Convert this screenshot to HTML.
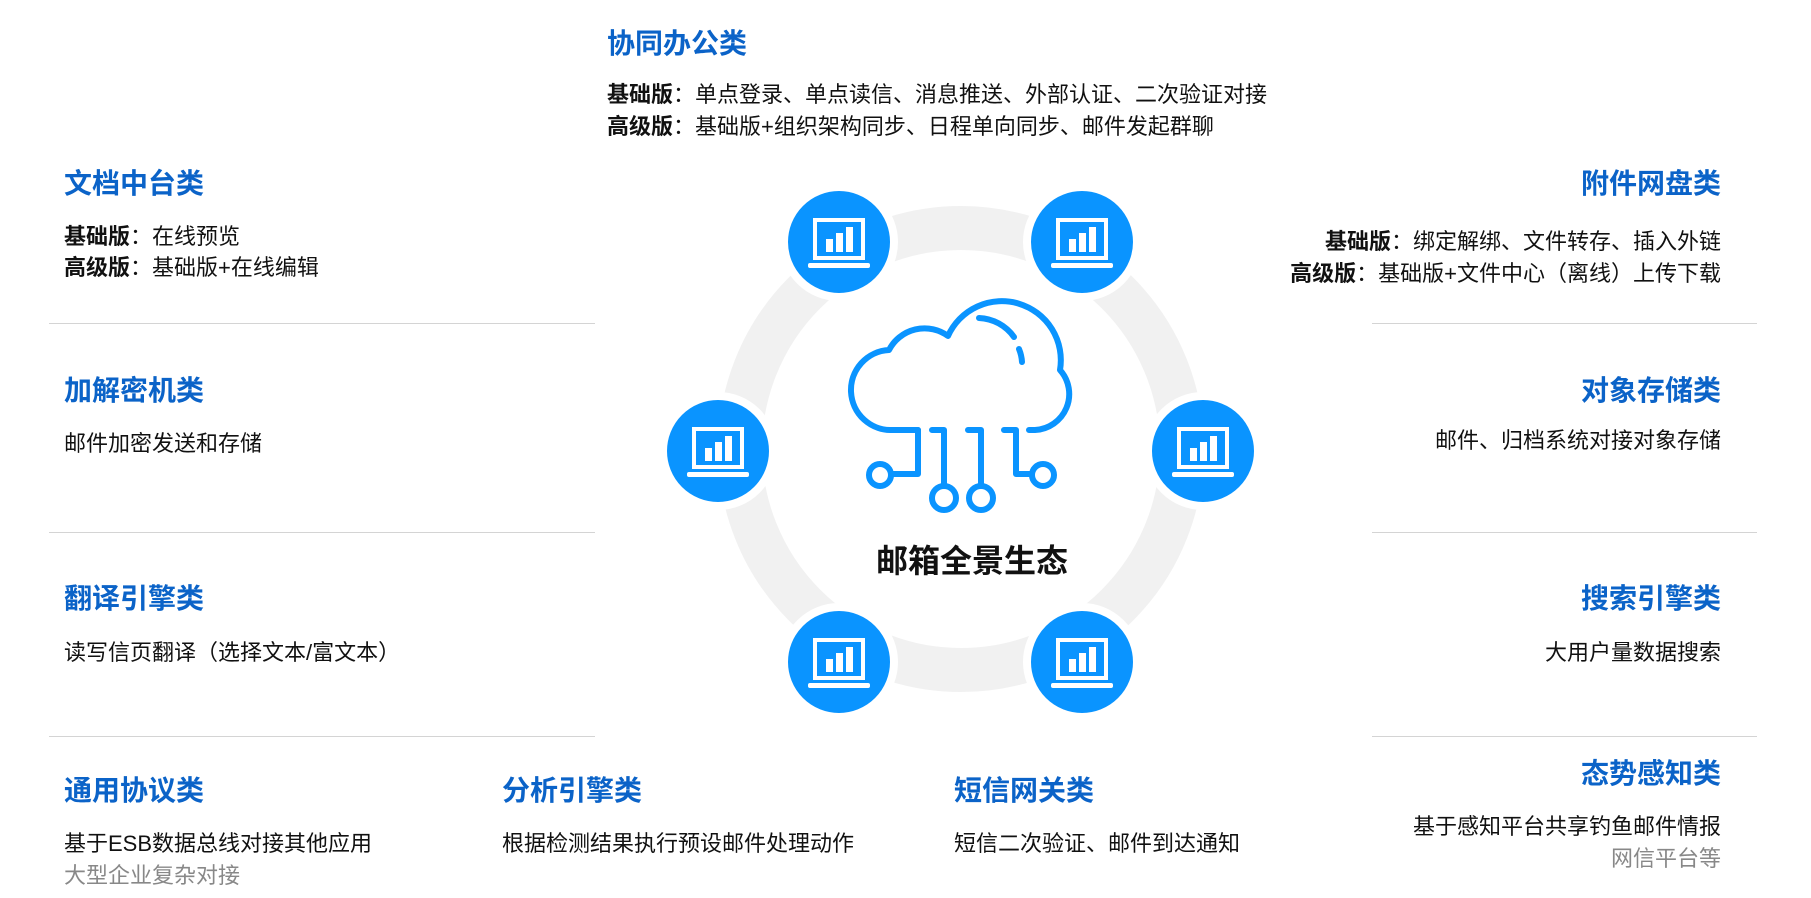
<!DOCTYPE html>
<html><head><meta charset="utf-8"><style>
html,body{margin:0;padding:0;background:#fff;}
body{width:1811px;height:898px;position:relative;overflow:hidden;font-family:"Liberation Sans","Noto Sans CJK SC",sans-serif;}
.t{position:absolute;white-space:nowrap;font-size:28px;font-weight:bold;color:#0b63c8;line-height:34px;}
.p{position:absolute;white-space:nowrap;font-size:22px;color:#111;line-height:28px;}
.r{text-align:right;right:90px;}
.g{color:#888;}
b{font-weight:bold;}
.hl{position:absolute;height:1px;background:#d4d4d4;}
</style></head><body>
<svg width="1811" height="898" style="position:absolute;left:0;top:0">
<circle cx="961" cy="449" r="221" fill="none" stroke="#f1f1f1" stroke-width="44"/>
<defs>
<g id="n">
<circle r="55" fill="#0a94ff" stroke="#fff" stroke-width="8"/>
<rect x="-24" y="-22" width="48" height="38" fill="none" stroke="#fff" stroke-width="4"/>
<rect x="-13" y="-3" width="7" height="13" fill="#fff"/>
<rect x="-3" y="-9" width="7" height="19" fill="#fff"/>
<rect x="7" y="-15" width="7" height="25" fill="#fff"/>
<rect x="-31" y="21" width="62" height="5" rx="2" fill="#fff"/>
</g>
</defs>
<use href="#n" x="839" y="242"/>
<use href="#n" x="1082" y="242"/>
<use href="#n" x="718" y="451"/>
<use href="#n" x="1203" y="451"/>
<use href="#n" x="839" y="662"/>
<use href="#n" x="1082" y="662"/>
<g fill="none" stroke="#0a94ff" stroke-width="6" stroke-linecap="round" stroke-linejoin="round">
<path d="M918 430 H893 A40 40 0 0 1 889 350 A40 40 0 0 1 948 336 A59 59 0 0 1 1060 370 A36 36 0 0 1 1035 430 H1029"/>
<path d="M979 318 A45 45 0 0 1 1014 337"/>
<path d="M1019 349 A40 40 0 0 1 1022 362"/>
<path d="M918 430 V474 H892"/>
<circle cx="880" cy="475" r="11"/>
<path d="M932 430 H944 V486"/>
<circle cx="944" cy="498" r="12"/>
<path d="M968 430 H981 V486"/>
<circle cx="981" cy="498" r="12"/>
<path d="M1004 430 H1016 V474 H1031"/>
<circle cx="1043" cy="475" r="11"/>
</g>
</svg>
<div class="t" style="left:876px;top:542px;color:#111;font-size:32px;line-height:38px;">邮箱全景生态</div>

<div class="t" style="left:607px;top:27px;">协同办公类</div>
<div class="p" style="left:607px;top:81px;"><b>基础版</b>：单点登录、单点读信、消息推送、外部认证、二次验证对接</div>
<div class="p" style="left:607px;top:113px;"><b>高级版</b>：基础版+组织架构同步、日程单向同步、邮件发起群聊</div>

<div class="t" style="left:64px;top:167px;">文档中台类</div>
<div class="p" style="left:64px;top:223px;"><b>基础版</b>：在线预览</div>
<div class="p" style="left:64px;top:254px;"><b>高级版</b>：基础版+在线编辑</div>
<div class="hl" style="left:49px;width:546px;top:323px;"></div>
<div class="t" style="left:64px;top:374px;">加解密机类</div>
<div class="p" style="left:64px;top:430px;">邮件加密发送和存储</div>
<div class="hl" style="left:49px;width:546px;top:532px;"></div>
<div class="t" style="left:64px;top:582px;">翻译引擎类</div>
<div class="p" style="left:64px;top:639px;">读写信页翻译（选择文本/富文本）</div>
<div class="hl" style="left:49px;width:546px;top:736px;"></div>
<div class="t" style="left:64px;top:774px;">通用协议类</div>
<div class="p" style="left:64px;top:830px;">基于ESB数据总线对接其他应用</div>
<div class="p g" style="left:64px;top:862px;">大型企业复杂对接</div>
<div class="t" style="left:502px;top:774px;">分析引擎类</div>
<div class="p" style="left:502px;top:830px;">根据检测结果执行预设邮件处理动作</div>
<div class="t" style="left:954px;top:774px;">短信网关类</div>
<div class="p" style="left:954px;top:830px;">短信二次验证、邮件到达通知</div>

<div class="t r" style="top:167px;">附件网盘类</div>
<div class="p r" style="top:228px;"><b>基础版</b>：绑定解绑、文件转存、插入外链</div>
<div class="p r" style="top:260px;"><b>高级版</b>：基础版+文件中心（离线）上传下载</div>
<div class="hl" style="left:1372px;width:385px;top:323px;"></div>
<div class="t r" style="top:374px;">对象存储类</div>
<div class="p r" style="top:427px;">邮件、归档系统对接对象存储</div>
<div class="hl" style="left:1372px;width:385px;top:532px;"></div>
<div class="t r" style="top:582px;">搜索引擎类</div>
<div class="p r" style="top:639px;">大用户量数据搜索</div>
<div class="hl" style="left:1372px;width:385px;top:736px;"></div>
<div class="t r" style="top:757px;">态势感知类</div>
<div class="p r" style="top:813px;">基于感知平台共享钓鱼邮件情报</div>
<div class="p r g" style="top:845px;">网信平台等</div>
</body></html>
